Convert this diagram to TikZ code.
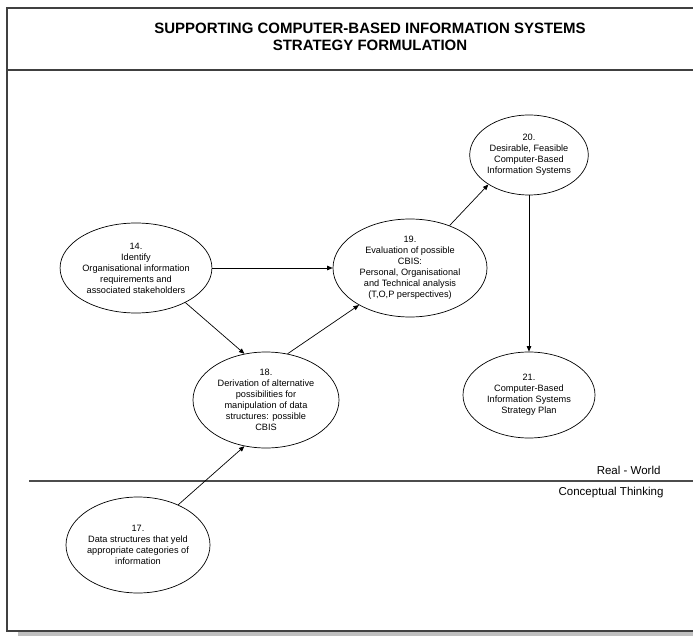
\documentclass[tikz,border=0pt]{standalone}
\usepackage{fontspec}
\setmainfont{Liberation Sans}
\usetikzlibrary{arrows.meta,shapes.geometric}
\begin{document}
\begin{tikzpicture}[x=1pt,y=-1pt,
  every node/.style={font=\fontsize{9.2}{11}\selectfont},
  proc/.style={draw=black,ellipse,align=center,inner sep=0pt,line width=0.7pt},
  ttl/.style={align=center,font=\fontsize{15}{17}\selectfont\bfseries},
  side/.style={anchor=east,font=\fontsize{11.5}{13}\selectfont},
  frm/.style={draw=black!75,line width=1.5pt},
  ar/.style={-{Triangle[length=5.5pt,width=4.5pt]},line width=0.7pt}]
\useasboundingbox (0,0) rectangle (693,636);
\fill[black!25] (18,632) rectangle (700,640);
\draw[frm] (700,8) -- (7,8) -- (7,631) -- (700,631);
\draw[frm] (7,70) -- (700,70);
\draw[black!70,line width=1.2pt] (29,481) -- (700,481);
\node[ttl] (title) at (370,36.5) {SUPPORTING COMPUTER-BASED INFORMATION SYSTEMS\\STRATEGY FORMULATION};
\node[side] (rw) at (664,470) {Real - World};
\node[side] (ct) at (667,493) {Conceptual Thinking};
\node[proc,minimum width=142pt,minimum height=90pt] (p14) at (136,268) {14.\\Identify\\Organisational information\\requirements and\\associated stakeholders};
\node[proc,minimum width=154pt,minimum height=98pt] (p19) at (410,268) {19.\\Evaluation of possible\\CBIS:\\Personal, Organisational\\and Technical analysis\\(T,O,P perspectives)};
\node[proc,minimum width=118pt,minimum height=80pt] (p20) at (529,155) {20.\\Desirable, Feasible\\Computer-Based\\Information Systems};
\node[proc,minimum width=132pt,minimum height=86pt] (p21) at (529,395) {21.\\Computer-Based\\Information Systems\\Strategy Plan};
\node[proc,minimum width=146pt,minimum height=96pt] (p18) at (266,400) {18.\\Derivation of alternative\\possibilities for\\manipulation of data\\structures: possible\\CBIS};
\node[proc,minimum width=144pt,minimum height=96pt] (p17) at (138,545) {17.\\Data structures that yeld\\appropriate categories of\\information};
\draw[ar] (p14) -- (p19);
\draw[ar] (p14.-35) -- (p18.115);
\draw[ar] (p18.65) -- (p19.216);
\draw[ar] (p19.47) -- (p20.216);
\draw[ar] (p20) -- (p21);
\draw[ar] (p17.45) -- (p18.245);
\end{tikzpicture}
\end{document}
